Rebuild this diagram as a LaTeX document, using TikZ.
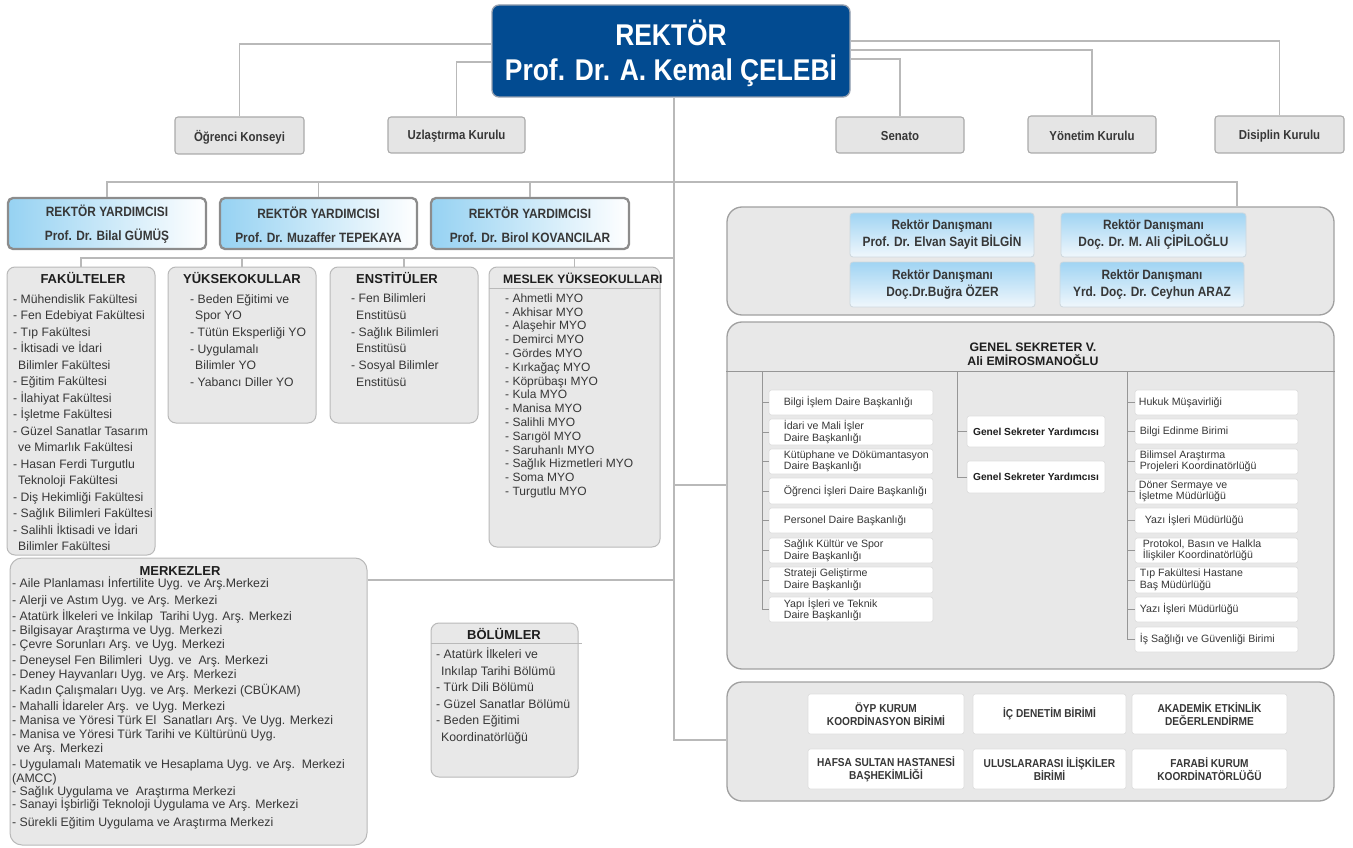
\documentclass[tikz,border=0pt]{standalone}
\usepackage{fontspec}
\setmainfont{Liberation Sans}
\newfontfamily\narrowf[FakeStretch=0.88]{Liberation Sans}
\usetikzlibrary{fit}
\newcommand{\fsz}[2]{\fontsize{#1}{#2}\selectfont}
\newcommand{\ct}{\hspace*{5pt}}
\definecolor{lineC}{RGB}{185,185,185}
\definecolor{gsLineC}{RGB}{150,150,150}
\definecolor{txt}{RGB}{55,55,55}
\definecolor{txtD}{RGB}{30,30,30}
\definecolor{topF}{RGB}{229,229,229}
\definecolor{topB}{RGB}{170,170,170}
\definecolor{rectF}{RGB}{2,75,145}
\definecolor{rectB}{RGB}{150,160,175}
\definecolor{vrL}{RGB}{150,210,242}
\definecolor{vrB}{RGB}{140,140,140}
\definecolor{advT}{RGB}{160,212,243}
\definecolor{advBot}{RGB}{240,247,252}
\definecolor{advB}{RGB}{205,215,222}
\definecolor{unitF}{RGB}{232,232,232}
\definecolor{unitB}{RGB}{185,185,185}
\definecolor{grpF}{RGB}{232,232,232}
\definecolor{grpB}{RGB}{160,160,160}
\definecolor{wB}{RGB}{222,222,222}
\begin{document}
\begin{tikzpicture}[x=1pt,y=-1pt,
  conn/.style={draw=lineC, line width=1.4pt},
  gsl/.style={draw=gsLineC, line width=0.9pt},
  topbox/.style={draw=topB, fill=topF, rounded corners=3pt, line width=1.1pt, inner sep=0pt},
  toptext/.style={inner sep=0pt, yshift=-1.5pt, text=txt, font=\narrowf\bfseries\fsz{13}{13}},
  rector/.style={draw=rectB, fill=rectF, rounded corners=7pt, line width=1.3pt, inner sep=0pt},
  rectortext/.style={inner sep=0pt, yshift=-2pt, text=white, align=center, font=\narrowf\bfseries\fsz{30}{35}},
  vrbox/.style={draw=vrB, line width=2.3pt, rounded corners=5pt, left color=vrL, right color=white, inner sep=0pt},
  vrtext/.style={inner sep=0pt, yshift=-1pt, text=txt, align=center, font=\narrowf\bfseries\fsz{13.5}{24}},
  advbox/.style={draw=advB, line width=0.8pt, rounded corners=3pt, top color=advT, bottom color=advBot, inner sep=0pt},
  advtext/.style={inner sep=0pt, text=txt, align=center, font=\narrowf\bfseries\fsz{13.5}{17}},
  unitbox/.style={draw=unitB, fill=unitF, rounded corners=8pt, line width=1pt, inner sep=0pt},
  grp/.style={draw=grpB, fill=grpF, rounded corners=15pt, line width=1.3pt, inner sep=0pt},
  wbox/.style={draw=wB, fill=white, rounded corners=2.5pt, line width=0.7pt, inner sep=0pt},
  utitle/.style={inner sep=0pt, text=txtD, font=\bfseries\fsz{13}{13}},
  item/.style={inner sep=0pt, anchor=base west, text=txt, font=\fsz{12.2}{12.2}},
  mitem/.style={item, font=\fsz{12}{12}},
  gstext/.style={inner sep=0pt, anchor=west, text=txt, align=left, font=\fsz{10.6}{11.5}},
  gsbtext/.style={inner sep=0pt, text=txtD, font=\bfseries\fsz{10.2}{10.2}},
  bottext/.style={inner sep=0pt, text=txt, align=center, font=\narrowf\bfseries\fsz{11.5}{13}},
  gshead/.style={inner sep=0pt, text=txtD, align=center, font=\bfseries\fsz{12.3}{14}}
]
\useasboundingbox (0,0) rectangle (1353,848);

% ---------- key coordinates ----------
\coordinate (mx) at (674,0);
\coordinate (vrbus) at (1237,182);
\coordinate (ub) at (674,258);
\coordinate (gsy) at (674,485);
\coordinate (mky) at (674,580);
\coordinate (mend) at (674,740);

% ---------- groups on the right (drawn first) ----------
\node[grp, fit={(727,207)(1334,315)}] (advgrp) {};
\node[grp, fit={(727,322)(1334,669)}] (gsgrp) {};
\node[grp, fit={(727,682)(1334,801)}] (botgrp) {};

% ---------- rector ----------
\node[rector, fit={(492,5)(850,97)}] (R) {};
\node[rectortext] (RT) at (R.center) {REKTÖR\\Prof. Dr. A. Kemal ÇELEBİ};

% ---------- top boards ----------
\node[topbox, fit={(175,117)(304,154)}] (ok) {};
\node[topbox, fit={(388,117)(525,153)}] (uz) {};
\node[topbox, fit={(836,117)(964,153)}] (sen) {};
\node[topbox, fit={(1028,116)(1156,153)}] (yon) {};
\node[topbox, fit={(1215,116)(1344,153)}] (dis) {};
\node[toptext] (okT) at (ok.center) {Öğrenci Konseyi};
\node[toptext] (uzT) at (uz.center) {Uzlaştırma Kurulu};
\node[toptext] (senT) at (sen.center) {Senato};
\node[toptext] (yonT) at (yon.center) {Yönetim Kurulu};
\node[toptext] (disT) at (dis.center) {Disiplin Kurulu};

\draw[conn] (R.west |- 0,44) -| (ok.north);
\draw[conn] (R.west |- 0,62) -| (uz.north);
\draw[conn] (R.east |- 0,41) -| (dis.north);
\draw[conn] (R.east |- 0,50) -| (yon.north);
\draw[conn] (R.east |- 0,59) -| (sen.north);

% ---------- vice rectors ----------
\node[vrbox, fit={(8,198)(206,249)}] (vr1) {};
\node[vrbox, fit={(220,198)(417,249)}] (vr2) {};
\node[vrbox, fit={(431,198)(629,249)}] (vr3) {};
\node[vrtext] (vr1T) at (vr1.center) {REKTÖR YARDIMCISI\\Prof. Dr. Bilal GÜMÜŞ};
\node[vrtext] (vr2T) at (vr2.center) {REKTÖR YARDIMCISI\\Prof. Dr. Muzaffer TEPEKAYA};
\node[vrtext] (vr3T) at (vr3.center) {REKTÖR YARDIMCISI\\Prof. Dr. Birol KOVANCILAR};

% ---------- main connectors ----------
\draw[conn] (R.south -| mx) -- (mend) -- (botgrp.west |- mend);
\draw[conn] (vr1.north) |- (vrbus) -- (advgrp.north -| vrbus);
\draw[conn] (vr2.north) -- (vr2.north |- vrbus);
\draw[conn] (vr3.north) -- (vr3.north |- vrbus);
\draw[conn] (gsy) -- (gsgrp.west |- gsy);

% ---------- unit boxes ----------
\node[unitbox, fit={(7,267)(155,555)}] (fak) {};
\node[unitbox, fit={(168,267)(316,423)}] (yuk) {};
\node[unitbox, fit={(330,267)(478,423)}] (ens) {};
\node[unitbox, fit={(489,267)(660,547)}] (myo) {};
\draw[conn] (fak.north) |- (ub);
\draw[conn] (yuk.north) -- (yuk.north |- ub);
\draw[conn] (ens.north) -- (ens.north |- ub);
\draw[conn] (myo.north) -- (myo.north |- ub);

\node[utitle] (fakT) at (83,278) {FAKÜLTELER};
\foreach \t [count=\i from 0] in {- Mühendislik Fakültesi, - Fen Edebiyat Fakültesi, - Tıp Fakültesi, - İktisadi ve İdari, \ct Bilimler Fakültesi, - Eğitim Fakültesi, - İlahiyat Fakültesi, - İşletme Fakültesi, - Güzel Sanatlar Tasarım, \ct ve Mimarlık Fakültesi, - Hasan Ferdi Turgutlu, \ct Teknoloji Fakültesi, - Diş Hekimliği Fakültesi, - Sağlık Bilimleri Fakültesi, - Salihli İktisadi ve İdari, \ct Bilimler Fakültesi}
  \node[item] (fak-\i) at (13, 303+16.5*\i) {\t};

\node[utitle] (yukT) at (242,278) {YÜKSEKOKULLAR};
\foreach \t [count=\i from 0] in {- Beden Eğitimi ve, \ct Spor YO, - Tütün Eksperliği YO, - Uygulamalı, \ct Bilimler YO, - Yabancı Diller YO}
  \node[item] (yuk-\i) at (190, 303+16.7*\i) {\t};

\node[utitle] (ensT) at (397,278) {ENSTİTÜLER};
\foreach \t [count=\i from 0] in {- Fen Bilimleri, \ct Enstitüsü, - Sağlık Bilimleri, \ct Enstitüsü, - Sosyal Bilimler, \ct Enstitüsü}
  \node[item] (ens-\i) at (351, 302.5+16.8*\i) {\t};

\node[utitle, anchor=west, font=\bfseries\fsz{12.2}{12.2}] (myoT) at (503,278) {MESLEK YÜKSEOKULLARI};
\draw[draw=unitB, line width=0.8pt] (myo.west |- 0,288) -- (myo.east |- 0,288);
\foreach \t [count=\i from 0] in {Ahmetli, Akhisar, Alaşehir, Demirci, Gördes, Kırkağaç, Köprübaşı, Kula, Manisa, Salihli, Sarıgöl, Saruhanlı, Sağlık Hizmetleri, Soma, Turgutlu}
  \node[mitem] (myo-\i) at (505, 302.3+13.8*\i) {- \t\ MYO};

% ---------- Merkezler ----------
\node[unitbox, rounded corners=12pt, fit={(10,558)(367,845)}] (merk) {};
\draw[conn] (merk.east |- mky) -- (mky);
\node[utitle] (merkT) at (180,571) {MERKEZLER};
\foreach \y/\t [count=\i] in {
  583/{- Aile Planlaması İnfertilite Uyg. ve Arş.Merkezi},
  600.5/{- Alerji ve Astım Uyg. ve Arş. Merkezi},
  616.5/{- Atatürk İlkeleri ve İnkilap\ \ Tarihi Uyg. Arş. Merkezi},
  630.5/{- Bilgisayar Araştırma ve Uyg. Merkezi},
  644.5/{- Çevre Sorunları Arş. ve Uyg. Merkezi},
  660/{- Deneysel Fen Bilimleri\ \ Uyg. ve\ \ Arş. Merkezi},
  674.5/{- Deney Hayvanları Uyg. ve Arş. Merkezi},
  690/{- Kadın Çalışmaları Uyg. ve Arş. Merkezi (CBÜKAM)},
  706/{- Mahalli İdareler Arş.\ \ ve Uyg. Merkezi},
  720/{- Manisa ve Yöresi Türk El\ \ Sanatları Arş. Ve Uyg. Merkezi},
  734/{- Manisa ve Yöresi Türk Tarihi ve Kültürünü Uyg.},
  748/{\ct ve Arş. Merkezi},
  764/{- Uygulamalı Matematik ve Hesaplama Uyg. ve Arş.\ \ Merkezi},
  778/{(AMCC)},
  791/{- Sağlık Uygulama ve\ \ Araştırma Merkezi},
  804.5/{- Sanayi İşbirliği Teknoloji Uygulama ve Arş. Merkezi},
  822.5/{- Sürekli Eğitim Uygulama ve Araştırma Merkezi}}
  \node[item, font=\fsz{12.3}{12.3}] (merk-\i) at (12, \y+4.3) {\t};

% ---------- Bölümler ----------
\node[unitbox, fit={(431,623)(578,777)}] (bol) {};
\draw[draw=unitB, line width=0.8pt] (bol.west |- 0,643) -- ([xshift=3pt]bol.east |- 0,643);
\node[utitle] (bolT) at (504,634) {BÖLÜMLER};
\foreach \t [count=\i from 0] in {- Atatürk İlkeleri ve, \ct Inkılap Tarihi Bölümü, - Türk Dili Bölümü, - Güzel Sanatlar Bölümü, - Beden Eğitimi, \ct Koordinatörlüğü}
  \node[item, font=\fsz{12.3}{12.3}] (bol-\i) at (436, 658.5+16.6*\i) {\t};

% ---------- advisors ----------
\node[advbox, fit={(850,213)(1034,257)}] (adv1) {};
\node[advbox, fit={(1061,213)(1246,257)}] (adv2) {};
\node[advbox, fit={(850,262)(1035,307)}] (adv3) {};
\node[advbox, fit={(1060,262)(1244,307)}] (adv4) {};
\node[advtext] (adv1T) at (adv1.center) {Rektör Danışmanı\\Prof. Dr. Elvan Sayit BİLGİN};
\node[advtext] (adv2T) at (adv2.center) {Rektör Danışmanı\\Doç. Dr. M. Ali ÇİPİLOĞLU};
\node[advtext] (adv3T) at (adv3.center) {Rektör Danışmanı\\Doç.Dr.Buğra ÖZER};
\node[advtext] (adv4T) at (adv4.center) {Rektör Danışmanı\\Yrd. Doç. Dr. Ceyhun ARAZ};

% ---------- Genel Sekreter ----------
\draw[gsl] (gsgrp.west |- 0,371) -- (gsgrp.east |- 0,371);
\node[gshead] (gsT) at (1033,354) {GENEL SEKRETER V.\\Ali EMİROSMANOĞLU};

\coordinate (glx) at (762,371);
\foreach \a/\b/\t [count=\i] in {
  390/415/{Bilgi İşlem Daire Başkanlığı},
  419/445/{İdari ve Mali İşler\\Daire Başkanlığı},
  449/474/{Kütüphane ve Dökümantasyon\\Daire Başkanlığı},
  478/504/{Öğrenci İşleri Daire Başkanlığı},
  508/533/{Personel Daire Başkanlığı},
  538/563/{Sağlık Kültür ve Spor\\Daire Başkanlığı},
  567/593/{Strateji Geliştirme\\Daire Başkanlığı},
  597/622/{Yapı İşleri ve Teknik\\Daire Başkanlığı}}
{
  \node[wbox, fit={(769,\a)(933,\b)}] (gl\i) {};
  \node[gstext] (glt\i) at ([xshift=15pt]gl\i.west) {\t};
  \draw[gsl] (gl\i.west -| glx) -- (gl\i.west);
}
\draw[gsl] (glx) -- (gl8.west -| glx);

\coordinate (gmx) at (957,371);
\node[wbox, fit={(967,416)(1105,447)}] (gm1) {};
\node[wbox, fit={(967,461)(1105,493)}] (gm2) {};
\node[gsbtext] (gm1T) at (gm1.center) {Genel Sekreter Yardımcısı};
\node[gsbtext] (gm2T) at (gm2.center) {Genel Sekreter Yardımcısı};
\draw[gsl] (gmx) |- (gm2.west);
\draw[gsl] (gm1.west -| gmx) -- (gm1.west);

\coordinate (grx) at (1127,371);
\foreach \a/\b/\o/\t [count=\i] in {
  390/415/4/{Hukuk Müşavirliği},
  419/444/5/{Bilgi Edinme Birimi},
  449/474/5/{Bilimsel Araştırma\\Projeleri Koordinatörlüğü},
  479/504/4/{Döner Sermaye ve\\İşletme Müdürlüğü},
  508/533/10/{Yazı İşleri Müdürlüğü},
  538/563/8/{Protokol, Basın ve Halkla\\İlişkiler Koordinatörlüğü},
  567/593/5/{Tıp Fakültesi Hastane\\Baş Müdürlüğü},
  597/622/5/{Yazı İşleri Müdürlüğü},
  627/652/5/{İş Sağlığı ve Güvenliği Birimi}}
{
  \node[wbox, fit={(1135,\a)(1298,\b)}] (gr\i) {};
  \node[gstext] (grt\i) at ([xshift=\o pt]gr\i.west) {\t};
  \draw[gsl] (gr\i.west -| grx) -- (gr\i.west);
}
\draw[gsl] (grx) -- (gr9.west -| grx);

% ---------- bottom units ----------
\node[wbox, fit={(808,694)(964,734)}] (b1) {};
\node[wbox, fit={(973,694)(1126,734)}] (b2) {};
\node[wbox, fit={(1132,694)(1287,734)}] (b3) {};
\node[wbox, fit={(808,749)(964,789)}] (b4) {};
\node[wbox, fit={(973,749)(1126,789)}] (b5) {};
\node[wbox, fit={(1132,749)(1287,789)}] (b6) {};
\node[bottext] (b1T) at (b1.center) {ÖYP KURUM\\KOORDİNASYON BİRİMİ};
\node[bottext] (b2T) at (b2.center) {İÇ DENETİM BİRİMİ};
\node[bottext] (b3T) at (b3.center) {AKADEMİK ETKİNLİK\\DEĞERLENDİRME};
\node[bottext] (b4T) at (b4.center) {HAFSA SULTAN HASTANESİ\\BAŞHEKİMLİĞİ};
\node[bottext] (b5T) at (b5.center) {ULUSLARARASI İLİŞKİLER\\BİRİMİ};
\node[bottext] (b6T) at (b6.center) {FARABİ KURUM\\KOORDİNATÖRLÜĞÜ};
\end{tikzpicture}
\end{document}
